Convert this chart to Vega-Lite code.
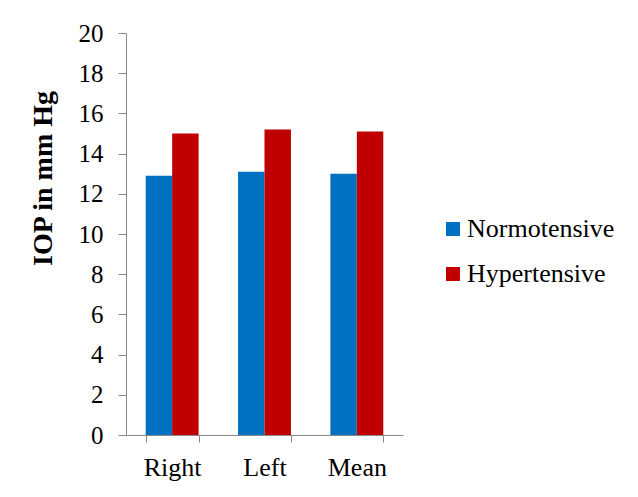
{
  "$schema": "https://vega.github.io/schema/vega-lite/v6.json",
  "autosize": "none",
  "width": 277,
  "height": 402,
  "padding": {"left": 126, "top": 33, "right": 235, "bottom": 62},
  "background": "white",
  "data": {
    "values": [
      {"eye": "Right", "group": "Normotensive", "iop": 12.9},
      {"eye": "Right", "group": "Hypertensive", "iop": 15.0},
      {"eye": "Left", "group": "Normotensive", "iop": 13.1},
      {"eye": "Left", "group": "Hypertensive", "iop": 15.2},
      {"eye": "Mean", "group": "Normotensive", "iop": 13.0},
      {"eye": "Mean", "group": "Hypertensive", "iop": 15.1}
    ]
  },
  "mark": {"type": "bar"},
  "encoding": {
    "x": {
      "field": "eye",
      "type": "nominal",
      "sort": ["Right", "Left", "Mean"],
      "scale": {"paddingInner": 0.427, "paddingOuter": 0.2135},
      "axis": {
        "title": null,
        "labelAngle": 0,
        "tickBand": "extent",
        "tickSize": 7,
        "labelPadding": 12,
        "labelFontSize": 26
      }
    },
    "xOffset": {"field": "group", "type": "nominal", "sort": ["Normotensive", "Hypertensive"], "scale": {"paddingInner": 0, "paddingOuter": 0}},
    "y": {
      "field": "iop",
      "type": "quantitative",
      "scale": {"domain": [0, 20], "nice": false},
      "axis": {
        "title": "IOP in mm Hg",
        "values": [0, 2, 4, 6, 8, 10, 12, 14, 16, 18, 20],
        "grid": false,
        "tickSize": 8,
        "labelPadding": 15,
        "labelFontSize": 25,
        "titleFontSize": 28,
        "titleFontWeight": "bold",
        "titleAngle": 270,
        "titleAlign": "center",
        "titleBaseline": "middle",
        "titleX": -83,
        "titleY": 145
      }
    },
    "color": {
      "field": "group",
      "type": "nominal",
      "sort": ["Normotensive", "Hypertensive"],
      "scale": {"domain": ["Normotensive", "Hypertensive"], "range": ["#0070C0", "#C00000"]},
      "legend": {
        "title": null,
        "orient": "none",
        "legendX": 314,
        "legendY": 183,
        "symbolType": "square",
        "symbolSize": 196,
        "symbolStrokeWidth": 0,
        "labelOffset": 1,
        "rowPadding": 19
      }
    }
  },
  "config": {
    "font": "Liberation Serif",
    "view": {"stroke": null},
    "axis": {
      "labelFont": "Liberation Serif",
      "labelColor": "black",
      "titleFont": "Liberation Serif",
      "titleColor": "black",
      "domainColor": "#898989",
      "tickColor": "#898989"
    },
    "legend": {
      "labelFont": "Liberation Serif",
      "labelFontSize": 26,
      "labelColor": "black",
      "labelLimit": 300
    }
  }
}
